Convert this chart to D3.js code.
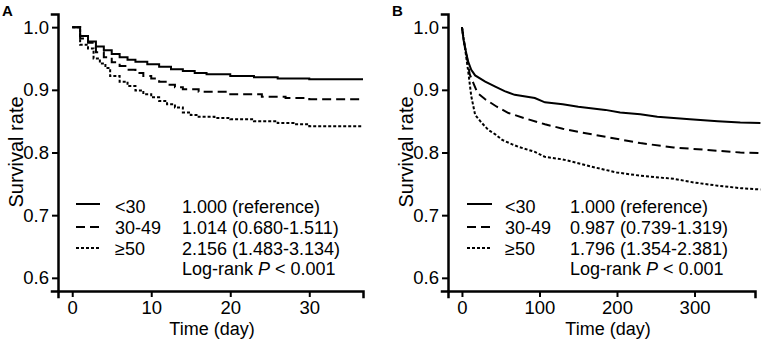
<!DOCTYPE html>
<html>
<head>
<meta charset="utf-8">
<script src="https://cdn.jsdelivr.net/npm/d3@7"></script>
<style>
    body { margin: 0; background: #fff; }
    text { font-family: "Liberation Sans", Arial, sans-serif; fill: #000; }
</style>
</head>
<body>
<script>
// ---------------------------------------------------------------------------
// Data (A: days 0-37, B: days 0-385)
// ---------------------------------------------------------------------------
var groups = ["<30", "30-49", "\u226550"];

// Panel A, step curves
var aTimeYoung = [0, 1, 2, 3, 4, 5, 6, 7, 8, 9.5, 11, 12.5, 14, 15.5, 17, 20,
    23, 26, 30, 36.8];
var aSurvYoung = [1.0, 0.986, 0.977, 0.969, 0.963, 0.957, 0.952, 0.948,
    0.945, 0.941, 0.937, 0.933, 0.930, 0.927, 0.925, 0.922, 0.920, 0.918,
    0.917, 0.917];
var aTimeMid = [0, 1, 2, 3, 4, 5, 6, 7, 8, 9, 10, 11, 12, 13, 14, 16, 20, 24,
    27, 30, 36.8];
var aSurvMid = [1.0, 0.982, 0.975, 0.960, 0.952, 0.944, 0.938, 0.932, 0.927,
    0.922, 0.918, 0.913, 0.908, 0.904, 0.901, 0.897, 0.893, 0.889, 0.887,
    0.885, 0.885];
var aTimeOld = [0, 1, 2, 2.7, 3.5, 4.2, 4.8, 6, 7, 8, 9, 10, 11, 12, 13, 14,
    15, 16, 18, 20, 23, 26, 28, 30, 36.8];
var aSurvOld = [1.0, 0.972, 0.966, 0.950, 0.942, 0.935, 0.922, 0.913, 0.906,
    0.899, 0.893, 0.888, 0.882, 0.877, 0.872, 0.864, 0.860, 0.857, 0.855,
    0.853, 0.850, 0.847, 0.845, 0.842, 0.842];

// Panel B, dense curves
var bTimeYoung = [0, 2, 4, 8, 12, 17, 30, 43, 55, 68, 94, 107, 130, 150, 185,
    204, 230, 252, 294, 330, 359, 385];
var bSurvYoung = [1.0, 0.980, 0.967, 0.945, 0.932, 0.923, 0.913, 0.905,
    0.898, 0.892, 0.887, 0.880, 0.877, 0.873, 0.868, 0.864, 0.861, 0.857,
    0.853, 0.850, 0.848, 0.847];
var bTimeMid = [0, 3, 6, 10, 15, 20, 30, 45, 60, 80, 107, 130, 150, 172, 208,
    230, 273, 317, 359, 385];
var bSurvMid = [1.0, 0.975, 0.955, 0.925, 0.910, 0.895, 0.885, 0.873, 0.863,
    0.855, 0.845, 0.838, 0.833, 0.828, 0.820, 0.815, 0.808, 0.804, 0.800,
    0.799];
var bTimeOld = [0, 4, 8, 12, 17, 25, 34, 43, 52, 65, 73, 94, 107, 130, 150,
    172, 200, 230, 273, 300, 330, 360, 385];
var bSurvOld = [1.0, 0.966, 0.930, 0.890, 0.860, 0.848, 0.836, 0.829, 0.820,
    0.813, 0.809, 0.801, 0.793, 0.789, 0.783, 0.776, 0.768, 0.763, 0.758,
    0.752, 0.747, 0.743, 0.741];

// Hazard ratios shown in the legends
var statsA = ["1.000 (reference)", "1.014 (0.680-1.511)",
    "2.156 (1.483-3.134)"];
var statsB = ["1.000 (reference)", "0.987 (0.739-1.319)",
    "1.796 (1.354-2.381)"];

var yTicks = [0.6, 0.7, 0.8, 0.9, 1.0];
var xTicksA = [0, 10, 20, 30];
var xTicksB = [0, 100, 200, 300];

// solid, long dash, short dash
var dashes = [null, "9,5", "3,2"];

function zipSeries(t, s) {
    return t.map(function(d, i) { return {t: d, s: s[i]}; });
}

var svg = d3.select("body").append("svg")
    .attr("width", 765)
    .attr("height", 343);

/*
    One panel: axes, three survival curves and the legend block.
    p holds the placement for that panel in pixels.
*/
function drawPanel(p) {
    var x = d3.scaleLinear().domain(p.xDomain).range([p.left, p.right]);
    var y = d3.scaleLinear().domain([0.579, 1.021]).range([291, 14]);

    var g = svg.append("g");

    // curves
    var line = d3.line()
        .x(function(d) { return x(d.t); })
        .y(function(d) { return y(d.s); })
        .curve(p.curve);

    p.series.forEach(function(s, i) {
        g.append("path")
            .datum(s)
            .attr("d", line)
            .attr("fill", "none")
            .attr("stroke", "#000")
            .attr("stroke-width", 2)
            .attr("stroke-dasharray", dashes[i]);
    });

    // y axis
    var yAx = g.append("g")
        .attr("transform", "translate(" + p.left + ",0)")
        .call(d3.axisLeft(y).tickValues(yTicks).tickSizeOuter(0)
            .tickSize(6).tickPadding(3)
            .tickFormat(d3.format(".1f")));

    // x axis
    var xAx = g.append("g")
        .attr("transform", "translate(0,291)")
        .call(d3.axisBottom(x).tickValues(p.xTicks).tickSizeOuter(0)
            .tickSize(6).tickPadding(4));

    [yAx, xAx].forEach(function(ax) {
        ax.select(".domain")
            .attr("stroke-width", 2.5)
            .attr("stroke-linecap", "square");
        ax.selectAll(".tick line").attr("stroke-width", 2);
        ax.selectAll(".tick text")
            .attr("font-size", "18.5px")
            .attr("font-family", "Liberation Sans, Arial, sans-serif");
    });

    // axis titles
    g.append("text")
        .attr("x", p.xTitleX)
        .attr("y", 335)
        .attr("text-anchor", "middle")
        .attr("font-size", "18px")
        .text("Time (day)");

    g.append("text")
        .attr("transform", "translate(" + p.yTitleX + ",152) rotate(-90)")
        .attr("text-anchor", "middle")
        .attr("font-size", "20px")
        .text("Survival rate");

    // panel letter
    g.append("text")
        .attr("x", p.letterX)
        .attr("y", 16)
        .attr("font-size", "15px")
        .attr("font-weight", "bold")
        .text(p.letter);

    // legend
    var rows = [213, 234, 255];
    var lineY = [204, 227, 248];
    groups.forEach(function(name, i) {
        g.append("line")
            .attr("x1", p.legLine[0]).attr("x2", p.legLine[1])
            .attr("y1", lineY[i]).attr("y2", lineY[i])
            .attr("stroke", "#000")
            .attr("stroke-width", 2)
            .attr("stroke-dasharray", dashes[i]);
        g.append("text")
            .attr("x", p.legName)
            .attr("y", rows[i])
            .attr("font-size", "18px")
            .text(name);
        g.append("text")
            .attr("x", p.legStat)
            .attr("y", rows[i])
            .attr("font-size", "18px")
            .text(p.stats[i]);
    });

    var lr = g.append("text")
        .attr("x", p.legStat)
        .attr("y", 275)
        .attr("font-size", "18px");
    lr.append("tspan").text("Log-rank ");
    lr.append("tspan").attr("font-style", "italic").text("P");
    lr.append("tspan").text(" < 0.001");
}

drawPanel({
    letter: "A", letterX: 2,
    left: 58, right: 363, xDomain: [-1.8, 36.8], xTicks: xTicksA,
    curve: d3.curveStepAfter,
    series: [zipSeries(aTimeYoung, aSurvYoung), zipSeries(aTimeMid, aSurvMid),
        zipSeries(aTimeOld, aSurvOld)],
    xTitleX: 212, yTitleX: 23,
    legLine: [76, 100], legName: 115, legStat: 182, stats: statsA
});

drawPanel({
    letter: "B", letterX: 392,
    left: 448, right: 755, xDomain: [-18, 378], xTicks: xTicksB,
    curve: d3.curveLinear,
    series: [zipSeries(bTimeYoung, bSurvYoung), zipSeries(bTimeMid, bSurvMid),
        zipSeries(bTimeOld, bSurvOld)],
    xTitleX: 608, yTitleX: 413,
    legLine: [467, 492], legName: 505, legStat: 570, stats: statsB
});
</script>
</body>
</html>
